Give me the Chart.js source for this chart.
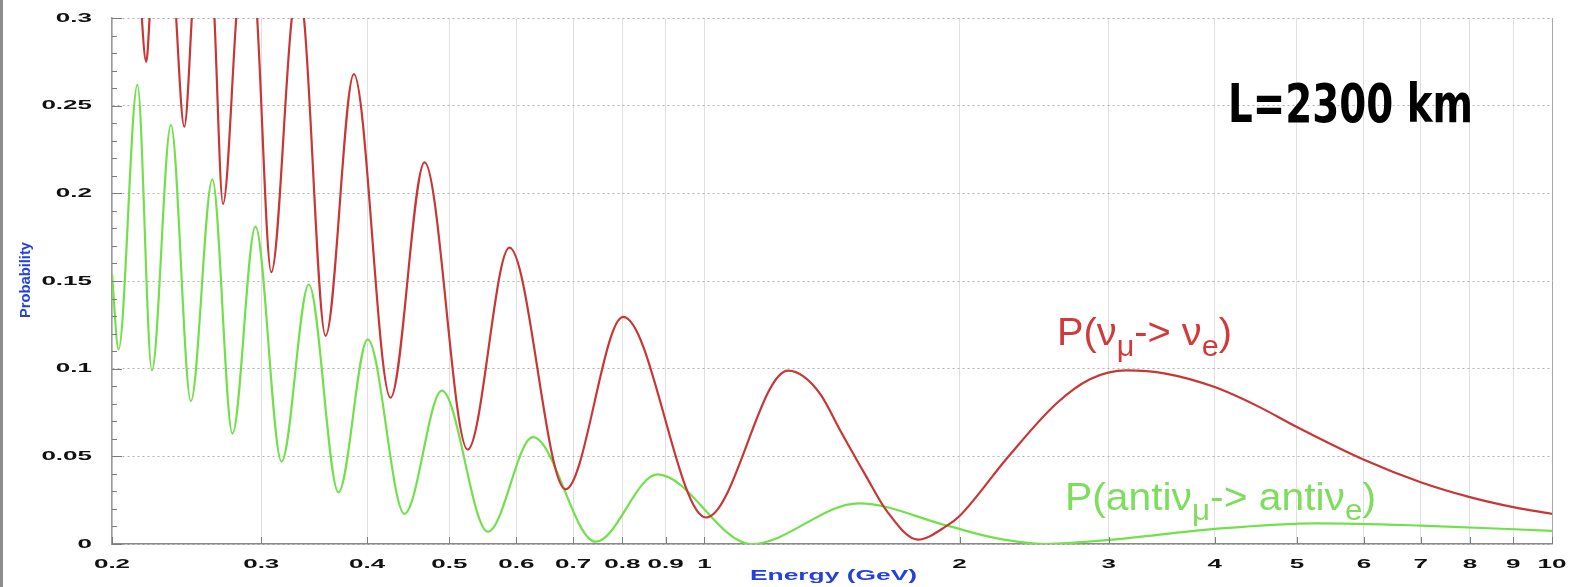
<!DOCTYPE html>
<html>
<head>
<meta charset="utf-8">
<title>Oscillation probability, L=2300 km</title>
<script src="https://cdn.jsdelivr.net/npm/chart.js@4.4.1/dist/chart.umd.min.js"></script>
<style>
  html, body { margin: 0; padding: 0; background: #ffffff; }
  canvas { display: block; }
</style>
</head>
<body>
<canvas id="osc" width="1569" height="587"></canvas>
<script>
// Axis ticks
const energyTicks = [0.2, 0.3, 0.4, 0.5, 0.6, 0.7, 0.8, 0.9, 1, 2, 3, 4, 5, 6, 7, 8, 9, 10];
const energyTickLabels = ['0.2', '0.3', '0.4', '0.5', '0.6', '0.7', '0.8', '0.9', '1', '2', '3', '4', '5', '6', '7', '8', '9', '10'];
const probabilityTicks = [0, 0.05, 0.1, 0.15, 0.2, 0.25, 0.3];
const probabilityTickLabels = ['0', '0.05', '0.1', '0.15', '0.2', '0.25', '0.3'];

// P(numu -> nue): energy in GeV, probability
const nueEnergy = [
  0.2, 0.209, 0.2169, 0.2195, 0.2215, 0.2295, 0.2381, 0.2434, 0.2484, 0.256,
  0.2642, 0.2704, 0.2803, 0.2885, 0.2967, 0.3083, 0.326, 0.3313, 0.3369, 0.3573,
  0.3858, 0.4262, 0.4675, 0.5256, 0.5887, 0.6856, 0.8019, 1.0045, 1.255, 1.31,
  1.372, 1.449, 1.55, 1.64, 1.786, 1.933, 2.0, 2.28, 2.6, 2.85,
  3.148, 3.5, 4, 4.5, 5, 6, 7, 8, 9, 10
];
const nueProbability = [
  0.31, 0.47, 0.30, 0.275, 0.30, 0.46, 0.30, 0.238, 0.30, 0.44,
  0.30, 0.194, 0.30, 0.385, 0.30, 0.155, 0.30, 0.318, 0.30, 0.1187,
  0.268, 0.0834, 0.2177, 0.0539, 0.169, 0.0312, 0.1295, 0.0151, 0.0989, 0.0955,
  0.085, 0.064, 0.039, 0.019, 0.0025, 0.0105, 0.016, 0.0495, 0.08, 0.094,
  0.099, 0.0972, 0.0895, 0.0785, 0.0667, 0.048, 0.0352, 0.0267, 0.021, 0.0172
];

// P(anti-numu -> anti-nue)
const antiEnergy = [
  0.2, 0.2036, 0.2143, 0.2229, 0.2347, 0.2478, 0.2627, 0.2774, 0.2953, 0.317,
  0.3414, 0.370, 0.4006, 0.4427, 0.490, 0.5553, 0.6275, 0.744, 0.880, 1.136,
  1.521, 1.933, 2.2, 2.53, 3, 4, 5.28, 7, 10
];
const antiProbability = [
  0.154, 0.111, 0.262, 0.099, 0.239, 0.0815, 0.208, 0.063, 0.181, 0.047,
  0.148, 0.0295, 0.1167, 0.0172, 0.0875, 0.007, 0.061, 0.0013, 0.0397, 0.0,
  0.0232, 0.0105, 0.0035, 0.0, 0.0023, 0.0086, 0.0118, 0.0105, 0.0075
];

const baselineText = 'L=2300 km';
const xTitle = 'Energy (GeV)';
const yTitle = 'Probability';
// label pieces: [text, isSubscript]
const nueLabel = [['P(\u03BD', false], ['\u03BC', true], ['-> \u03BD', false], ['e', true], [')', false]];
const antiLabel = [['P(anti\u03BD', false], ['\u03BC', true], ['-> anti\u03BD', false], ['e', true], [')', false]];

const RED = '#c93636';
const GREEN = '#72e04c';
const BLUE = '#2340e0';
const SANS = "'Liberation Sans', Arial, sans-serif";

function toPoints(xs, ys) { return xs.map((x, i) => ({ x: x, y: ys[i] })); }

// text drawn with a horizontal stretch factor
function stretchedText(ctx, str, x, y, font, color, sx, align, base) {
  ctx.save();
  ctx.font = font;
  ctx.fillStyle = color;
  ctx.textAlign = 'left';
  ctx.textBaseline = base || 'alphabetic';
  const w = ctx.measureText(str).width * sx;
  const x0 = align === 'center' ? x - w / 2 : (align === 'right' ? x - w : x);
  ctx.translate(x0, y);
  ctx.scale(sx, 1);
  ctx.fillText(str, 0, 0);
  ctx.restore();
}

function fittedText(ctx, str, x, y, font, color, width) {
  ctx.save();
  ctx.font = font;
  const sx = width / ctx.measureText(str).width;
  ctx.restore();
  stretchedText(ctx, str, x, y, font, color, sx, 'left');
}

function subscriptLabel(ctx, pieces, x, y, size, subSize, subDrop, color, width) {
  ctx.save();
  const mainFont = size + 'px ' + SANS;
  const subFont = subSize + 'px ' + SANS;
  let total = 0;
  pieces.forEach(([t, sub]) => { ctx.font = sub ? subFont : mainFont; total += ctx.measureText(t).width; });
  const sx = width / total;
  ctx.translate(x, y);
  ctx.scale(sx, 1);
  ctx.fillStyle = color;
  ctx.textBaseline = 'alphabetic';
  let cx = 0;
  pieces.forEach(([t, sub]) => {
    ctx.font = sub ? subFont : mainFont;
    ctx.fillText(t, cx, sub ? subDrop : 0);
    cx += ctx.measureText(t).width;
  });
  ctx.restore();
}

const decorations = {
  id: 'decorations',
  afterDraw(chart) {
    const { ctx, chartArea: a, scales } = chart;
    const xs = scales.x, ys = scales.y;
    ctx.save();

    // left frame strip
    ctx.fillStyle = '#8e8e8e';
    ctx.fillRect(0, 0, 3, chart.height);

    // inward tick marks on the probability axis (major every 0.05, minor every 0.01)
    ctx.strokeStyle = '#7c7c7c';
    ctx.lineWidth = 1;
    for (let i = 0; i < probabilityTicks.length; i++) {
      const v0 = probabilityTicks[i];
      const py = Math.round(ys.getPixelForValue(v0)) + 0.5;
      ctx.beginPath(); ctx.moveTo(a.left, py); ctx.lineTo(a.left + 10, py); ctx.stroke();
      if (i < probabilityTicks.length - 1) {
        const step = (probabilityTicks[i + 1] - v0) / 5;
        for (let k = 1; k < 5; k++) {
          const pm = Math.round(ys.getPixelForValue(v0 + k * step)) + 0.5;
          ctx.beginPath(); ctx.moveTo(a.left, pm); ctx.lineTo(a.left + 5, pm); ctx.stroke();
        }
      }
    }
    // inward tick marks on the energy axis
    energyTicks.forEach(v => {
      const px = Math.round(xs.getPixelForValue(v)) + 0.5;
      ctx.beginPath(); ctx.moveTo(px, a.bottom); ctx.lineTo(px, a.bottom - 7); ctx.stroke();
    });

    // tick labels
    const tickFont = 'bold 13px ' + SANS;
    probabilityTicks.forEach((v, i) => {
      stretchedText(ctx, probabilityTickLabels[i], 92, ys.getPixelForValue(v), tickFont, '#111111', 2.0, 'right', 'middle');
    });
    energyTicks.forEach((v, i) => {
      stretchedText(ctx, energyTickLabels[i], xs.getPixelForValue(v), 564, tickFont, '#111111', 2.0, 'center', 'middle');
    });

    // axis titles
    fittedText(ctx, xTitle, 750, 580, 'bold 15px ' + SANS, BLUE, 167);
    ctx.save();
    ctx.translate(30, 318);
    ctx.rotate(-Math.PI / 2);
    fittedText(ctx, yTitle, 0, 0, 'bold 15px ' + SANS, BLUE, 76);
    ctx.restore();

    // annotations
    fittedText(ctx, baselineText, 1228, 122, "bold 54px 'DejaVu Sans Condensed', 'DejaVu Sans', sans-serif", '#000000', 245);
    subscriptLabel(ctx, nueLabel, 1057, 345, 39, 30, 11, '#d03a3a', 175);
    subscriptLabel(ctx, antiLabel, 1065, 510, 39, 30, 10, '#7ddd5c', 311);

    ctx.restore();
  }
};

new Chart(document.getElementById('osc'), {
  type: 'line',
  data: {
    datasets: [
      {
        label: 'P(numu -> nue)',
        data: toPoints(nueEnergy, nueProbability),
        borderColor: RED,
        borderWidth: 2.2,
        pointRadius: 0,
        cubicInterpolationMode: 'monotone',
        clip: 0,
        fill: false
      },
      {
        label: 'P(antinumu -> antinue)',
        data: toPoints(antiEnergy, antiProbability),
        borderColor: GREEN,
        borderWidth: 2.2,
        pointRadius: 0,
        cubicInterpolationMode: 'monotone',
        clip: 0,
        fill: false
      }
    ]
  },
  options: {
    responsive: false,
    animation: false,
    devicePixelRatio: 1,
    layout: { padding: { left: 112, right: 17, top: 18, bottom: 43 } },
    plugins: { legend: { display: false }, tooltip: { enabled: false }, title: { display: false } },
    scales: {
      x: {
        type: 'logarithmic',
        min: 0.2,
        max: 10,
        afterBuildTicks: s => { s.ticks = energyTicks.map(v => ({ value: v })); },
        ticks: { display: false },
        grid: {
          drawTicks: false,
          color: c => (c.tick && c.tick.value === 10 ? '#a8a8a8' : '#e0e0e0'),
          lineWidth: 1
        },
        border: { display: true, color: '#8a8a8a', width: 1.5 }
      },
      y: {
        type: 'linear',
        min: 0,
        max: 0.3,
        afterBuildTicks: s => { s.ticks = probabilityTicks.map(v => ({ value: v })); },
        ticks: { display: false },
        grid: { drawTicks: false, color: '#b2b2b2', lineWidth: 1 },
        border: { display: true, color: '#9a9a9a', width: 1.5, dash: [2, 3] }
      }
    }
  },
  plugins: [decorations]
});
</script>
</body>
</html>
